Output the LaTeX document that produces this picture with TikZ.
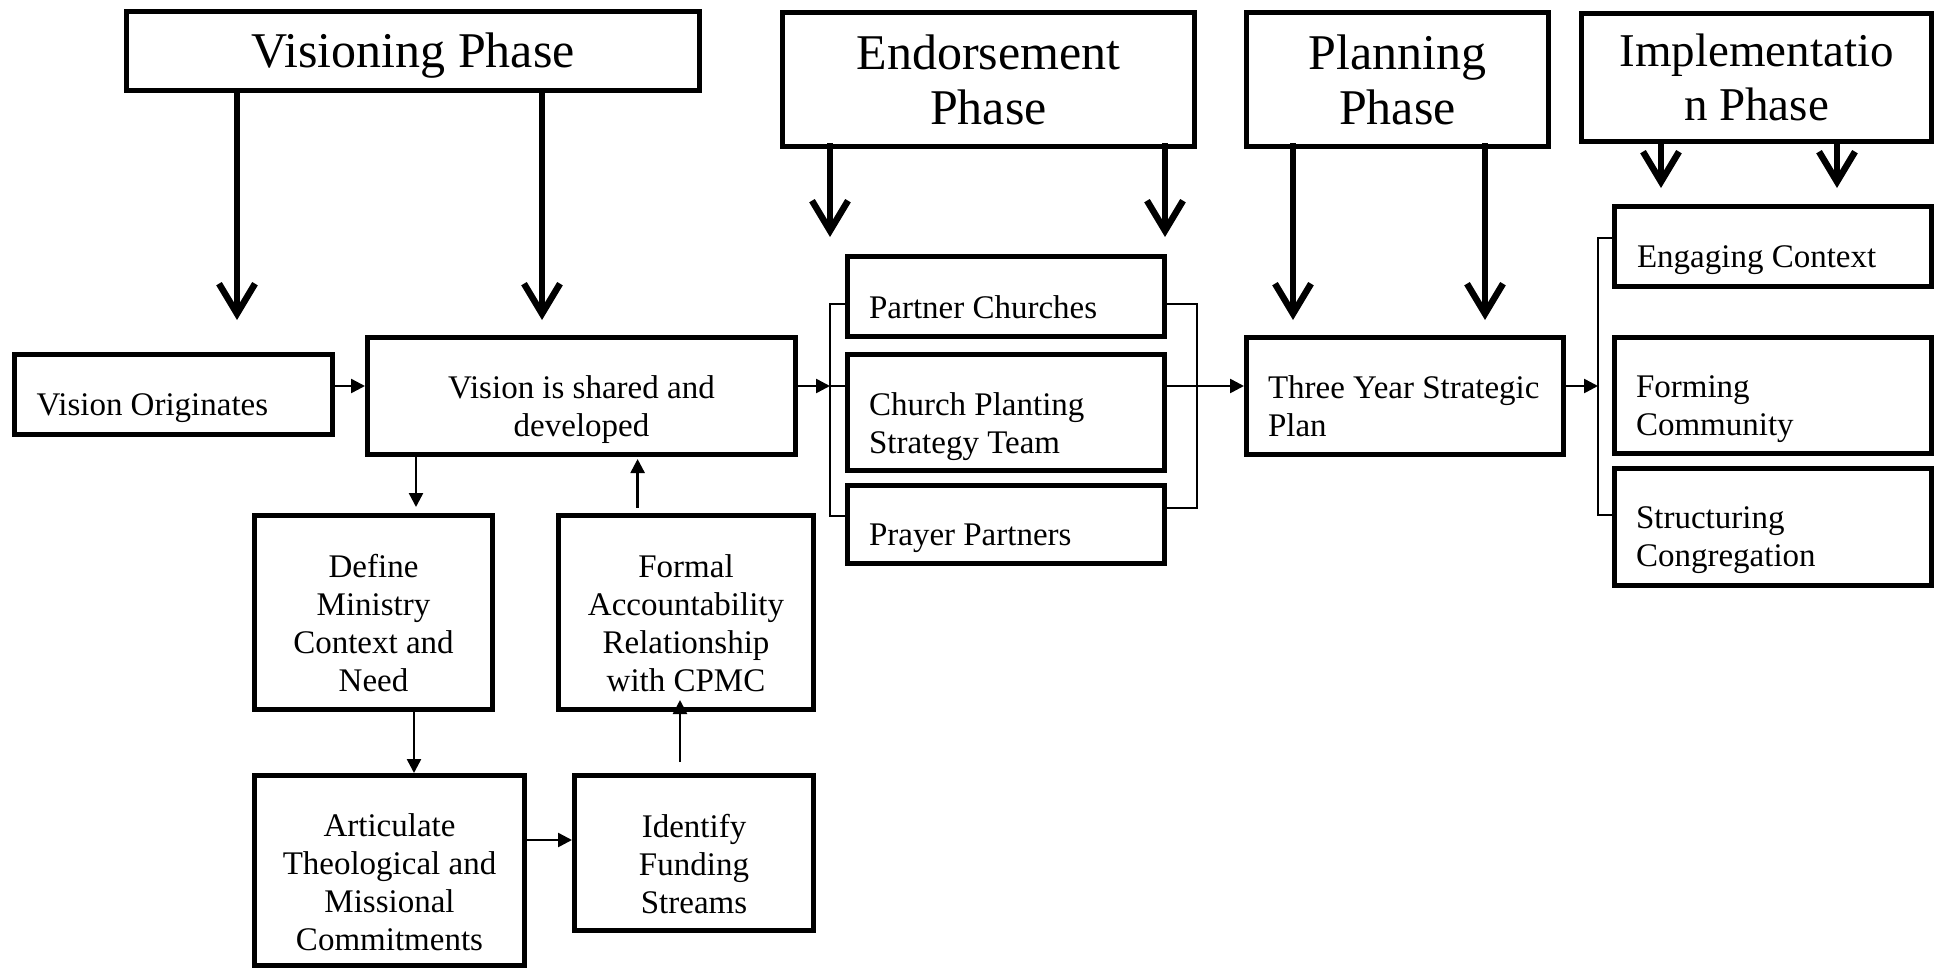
\documentclass[tikz,border=0pt]{standalone}
\usepackage{fontspec}
\setmainfont{Liberation Serif}
\usetikzlibrary{arrows.meta,calc}
\begin{document}
\begin{tikzpicture}[x=1pt,y=-1pt,
  box/.style={draw, line width=5pt, inner sep=0pt, outer sep=2.5pt, anchor=center},
  hbox/.style={box, font=\fontsize{50}{55}\selectfont, align=center},
  txt/.style={inner sep=0pt, outer sep=0pt, font=\fontsize{33}{38}\selectfont},
  ctxt/.style={txt, align=center},
  ltxt/.style={txt, align=left, anchor=west},
  bigarrow/.style={line width=6.5pt, -{Straight Barb[length=30pt,width=36pt]}},
  thinarrow/.style={line width=2.5pt, -{Triangle[length=14pt,width=14pt]}},
  bracket/.style={line width=1.5pt},
]
\useasboundingbox (0,0) rectangle (1937,969);

% phase headers
\node[hbox, minimum width=573pt, minimum height=79pt, text height=44pt, text depth=11pt] (vis) at (413,51) {Visioning Phase};
\node[hbox, minimum width=412pt, minimum height=134pt] (endo) at (988.5,79.5) {Endorsement\\Phase};
\node[hbox, minimum width=302pt, minimum height=134pt] (plan) at (1397.5,79.5) {Planning\\Phase};
\node[hbox, minimum width=350pt, minimum height=128pt, font=\fontsize{47}{54}\selectfont] (impl) at (1756.5,77) {Implementatio\\n Phase};

% boxes
\node[box, minimum width=318pt, minimum height=80pt] (vo) at (173,394.5) {};
\node[box, minimum width=428pt, minimum height=117pt] (vs) at (581.5,396) {};
\node[box, minimum width=238pt, minimum height=194pt] (define) at (373.5,612.5) {};
\node[box, minimum width=255pt, minimum height=194pt] (formal) at (686,612.5) {};
\node[box, minimum width=270pt, minimum height=190pt] (artic) at (389.5,870.5) {};
\node[box, minimum width=239pt, minimum height=155pt] (ident) at (694,853) {};
\node[box, minimum width=317pt, minimum height=80pt] (partner) at (1006,296.5) {};
\node[box, minimum width=317pt, minimum height=116pt] (cpst) at (1006,412.5) {};
\node[box, minimum width=317pt, minimum height=78pt] (prayer) at (1006,524.5) {};
\node[box, minimum width=317pt, minimum height=117pt] (three) at (1405,396) {};
\node[box, minimum width=317pt, minimum height=80pt] (engage) at (1773,246.5) {};
\node[box, minimum width=317pt, minimum height=116pt] (forming) at (1773,395.5) {};
\node[box, minimum width=317pt, minimum height=117pt] (struct) at (1773,527) {};

% texts
\node[ltxt] (vo-t) at ($(vo.west)+(25,14)$) {Vision Originates};
\node[ctxt] (vs-t) at ($(vs.center)+(0,14)$) {Vision is shared and\\developed};
\node[ctxt] (define-t) at ($(define.center)+(0,11)$) {Define\\Ministry\\Context and\\Need};
\node[ctxt] (formal-t) at ($(formal.center)+(0,11)$) {Formal\\Accountability\\Relationship\\with CPMC};
\node[ctxt] (artic-t) at ($(artic.center)+(0,12)$) {Articulate\\Theological and\\Missional\\Commitments};
\node[ctxt] (ident-t) at ($(ident.center)+(0,11)$) {Identify\\Funding\\Streams};
\node[ltxt] (partner-t) at ($(partner.west)+(24,11)$) {Partner Churches};
\node[ltxt] (cpst-t) at ($(cpst.west)+(24,14)$) {Church Planting\\Strategy Team};
\node[ltxt] (prayer-t) at ($(prayer.west)+(24,14)$) {Prayer Partners};
\node[ltxt] (three-t) at ($(three.west)+(24,10)$) {Three Year Strategic\\Plan};
\node[ltxt] (engage-t) at ($(engage.west)+(25,14)$) {Engaging Context};
\node[ltxt] (forming-t) at ($(forming.west)+(24,14)$) {Forming\\Community};
\node[ltxt] (struct-t) at ($(struct.west)+(24,13)$) {Structuring\\Congregation};

% big phase arrows
\coordinate (a1) at (237,320);
\coordinate (a2) at (542,320);
\coordinate (a3) at (830,237);
\coordinate (a4) at (1165,237);
\coordinate (a5) at (1293,320);
\coordinate (a6) at (1485,320);
\coordinate (a7) at (1661,188);
\coordinate (a8) at (1837,188);
\draw[bigarrow] (vis.south -| a1) -- (a1);
\draw[bigarrow] (vis.south -| a2) -- (a2);
\draw[bigarrow] ($(endo.south -| a3)+(0,-6)$) -- (a3);
\draw[bigarrow] ($(endo.south -| a4)+(0,-6)$) -- (a4);
\draw[bigarrow] ($(plan.south -| a5)+(0,-6)$) -- (a5);
\draw[bigarrow] ($(plan.south -| a6)+(0,-6)$) -- (a6);
\draw[bigarrow] (impl.south -| a7) -- (a7);
\draw[bigarrow] (impl.south -| a8) -- (a8);

% horizontal flow
\coordinate (ya) at (0,386);
\coordinate (lb) at (830,386);
\coordinate (lbt) at (830,304);
\coordinate (lbb) at (830,516);
\coordinate (rbt) at (1197,304);
\coordinate (rbb) at (1197,508);
\coordinate (ib) at (1598,386);
\coordinate (ibt) at (1598,238);
\coordinate (ibb) at (1598,515);
\draw[thinarrow] (vo.east |- ya) -- (vs.west |- ya);
\draw[thinarrow] (vs.east |- lb) -- (lb);
\draw[bracket] (lb) -- (cpst.west |- lb);
\draw[bracket] (partner.west |- lbt) -- (lbt) -- (lbb) -- (prayer.west |- lbb);
\draw[bracket] (partner.east |- rbt) -- (rbt) -- (rbb) -- (prayer.east |- rbb);
\draw[thinarrow] (cpst.east |- ya) -- (three.west |- ya);
\draw[thinarrow] (three.east |- ib) -- (ib);
\draw[bracket] (engage.west |- ibt) -- (ibt) -- (ibb) -- (struct.west |- ibb);

% vision sub-flow
\coordinate (d1) at (416,507);
\coordinate (u1) at (637.6,507.6);
\coordinate (d2) at (414,0);
\coordinate (u2) at (680,0);
\coordinate (h1) at (0,840);
\draw[thinarrow] (vs.south -| d1) -- (d1);
\draw[thinarrow] (u1) -- ($(vs.south -| u1)+(0,2)$);
\draw[thinarrow] (define.south -| d2) -- (artic.north -| d2);
\draw[thinarrow] ($(ident.north -| u2)+(0,-11)$) -- ($(formal.south -| u2)+(0,-12)$);
\draw[thinarrow] (artic.east |- h1) -- (ident.west |- h1);
\end{tikzpicture}
\end{document}
